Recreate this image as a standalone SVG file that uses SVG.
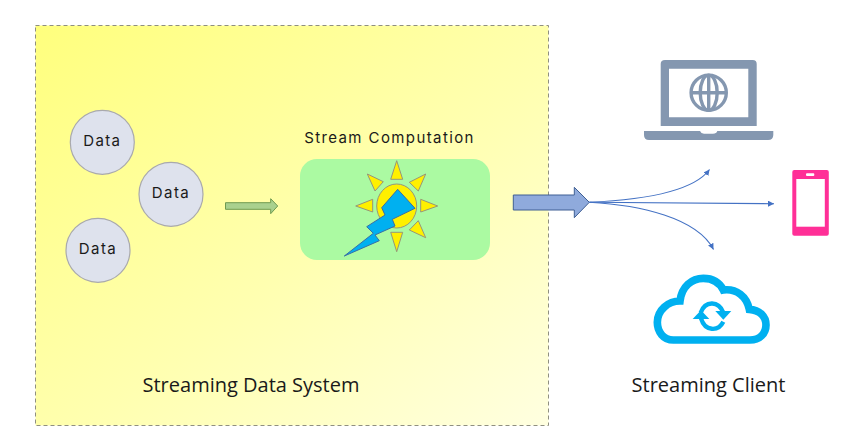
<svg xmlns="http://www.w3.org/2000/svg" width="859" height="443" viewBox="0 0 859 443">
<style>
.d{font-family:"Inter","Open Sans",sans-serif;font-size:15px;fill:#1a1a1a;text-anchor:middle;letter-spacing:1.4px}
.t{font-family:"Open Sans","Liberation Sans",sans-serif;font-size:20px;fill:#1a1a1a;text-anchor:middle}
.n{fill:#dee2ed;stroke:#a9a9ad;stroke-width:1.2}
.r{fill:#fff000;stroke:#96967a;stroke-width:1}
.c{fill:none;stroke:#4472c4;stroke-width:1.1}
.l{fill:none;stroke:#8497b0;stroke-width:3.4}
.s{fill:none;stroke:#00b0f0;stroke-width:13}
</style>
<defs>
<linearGradient id="bg" x1="0" y1="0" x2="1" y2="1"><stop offset="0" stop-color="#ffff7d"/><stop offset=".55" stop-color="#ffffb0"/><stop offset="1" stop-color="#ffffe0"/></linearGradient>
<marker id="a" markerUnits="userSpaceOnUse" markerWidth="8" markerHeight="8" refX="6" refY="3" orient="auto"><path d="M0 0L6 3L0 6Z" fill="#4472c4"/></marker>
</defs>
<g id="system"><rect x="35.5" y="25.5" width="513" height="400" fill="url(#bg)" stroke="#8f8f80" stroke-width="1" stroke-dasharray="4 3"/>
<text class="t" x="251" y="392">Streaming Data System</text></g>
<g id="data1"><circle class="n" cx="102.3" cy="142.3" r="32"/><text class="d" x="102.3" y="146">Data</text></g>
<g id="data2"><circle class="n" cx="171" cy="194.3" r="32"/><text class="d" x="171" y="198">Data</text></g>
<g id="data3"><circle class="n" cx="98" cy="250.3" r="32"/><text class="d" x="98" y="254">Data</text></g>
<g id="computation">
<text class="d" x="389.5" y="143">Stream Computation</text>
<rect x="300" y="159" width="190" height="101" rx="17" fill="#abfaa2"/>
<ellipse cx="396.7" cy="206" rx="20" ry="22" class="r"/>
<path class="r" d="M396.7 160.7L390.7 179.3H402.7Z"/>
<path class="r" d="M437.7 206L420.7 199.3V212Z"/>
<path class="r" d="M355.7 206L372.7 199.3V212Z"/>
<path class="r" d="M396.7 251.7L390.7 232.3H402.7Z"/>
<path class="r" d="M367.3 174L383.3 181.7L375 191Z"/>
<path class="r" d="M425.7 174L409.3 182.3L418.3 191Z"/>
<path class="r" d="M425.7 237.7L409.3 230L418.3 220.7Z"/>
<path d="M397.7 189.3L415 208.3L392.3 219.3L395 226L375 235L379.3 240.7L344.3 256L373.3 233.3L366.7 226.7L385 215L381.7 207.7Z" fill="#00b0f0" stroke="#3a6ea5" stroke-width="1"/>
</g>
<g id="connectors">
<path d="M225.5 202.7H270.7V198.7L277.7 206L270.7 213.7V209.3H225.5Z" fill="#a9d18e" stroke="#6f9a50" stroke-width="1"/>
<path d="M513.3 195H574.3V187.3L589.3 202.3L574.3 217.7V210H513.3Z" fill="#8faadc" stroke="#3f5f94" stroke-width="1"/>
<path class="c" marker-end="url(#a)" d="M589.3 202.3C640 200 693 192 709.5 169.5"/>
<path class="c" marker-end="url(#a)" d="M589.3 202.3L774 203.7"/>
<path class="c" marker-end="url(#a)" d="M589.3 202.3C640 205 697 218 713.5 249.5"/>
</g>
<g id="laptop">
<path fill="#8497b0" fill-rule="evenodd" d="M665 60H752.7Q756.7 60 756.7 64V126H660.7V64Q660.7 60 665 60ZM669 68.7V117.3H748.3V68.7Z"/>
<path fill="#8497b0" d="M644 131H700Q701 133.7 704 133.7H713Q716.5 133.7 717.3 131H773.3V135Q773.3 140 768 140H649Q644 140 644 135Z"/>
<circle class="l" cx="708.7" cy="92.7" r="17.6"/>
<ellipse class="l" cx="708.7" cy="92.7" rx="8.5" ry="17.6"/>
<path class="l" d="M708.7 75V110.3M691 92.7H726.4"/>
</g>
<g id="phone">
<rect x="792.3" y="170" width="36.5" height="65.7" rx="2" fill="#ff2f97"/>
<rect x="796.3" y="179" width="28.5" height="47.7" fill="#fff"/>
<rect x="806" y="173.3" width="8.3" height="2.6" rx="1" fill="#fff"/>
</g>
<g id="cloud" transform="translate(640 265) scale(.3333)">
<path fill="none" stroke="#00b0f0" stroke-width="23" d="M100 225C70 225 52 200 52 172C52 135 85 108 120 108C125 65 155 40 190 40C220 40 240 55 250 75C290 70 320 95 328 133C360 135 378 155 378 180C378 205 360 225 330 225Z"/>
<path class="s" d="M182 143C195 108 235 105 250 143"/>
<path fill="#00b0f0" d="M226 138H274L250 164Z"/>
<path class="s" d="M250 170C235 200 195 200 183 160"/>
<path fill="#00b0f0" d="M158 162H208L183 136Z"/>
</g>
<g id="client"><text class="t" x="708.5" y="392">Streaming Client</text></g>
</svg>
